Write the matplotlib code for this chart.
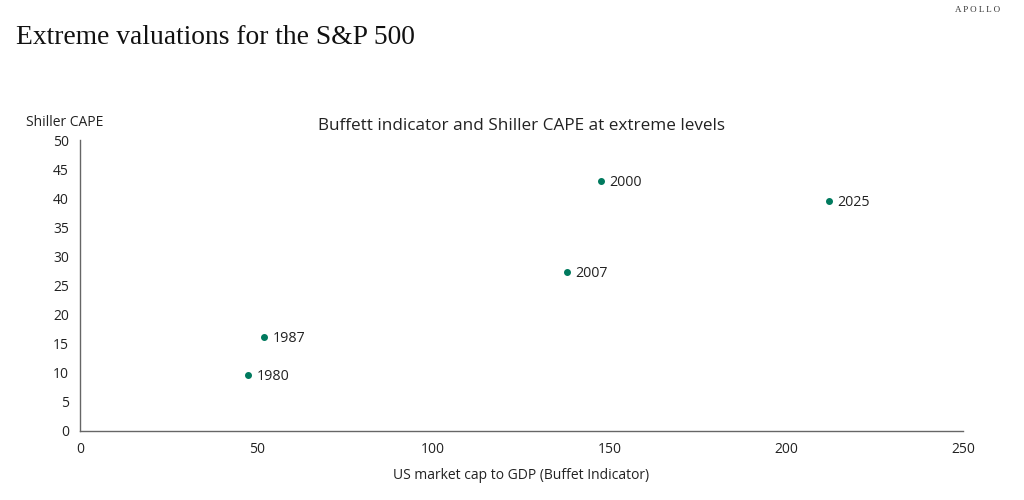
import matplotlib.pyplot as plt

years = ['1980', '1987', '2007', '2000', '2025']
buffett = [47.6, 52.1, 137.9, 147.5, 212.1]
cape = [9.6, 16.2, 27.3, 43.0, 39.5]

green = '#007a5e'
plt.rcParams['font.family'] = ['Open Sans', 'DejaVu Sans']

fig = plt.figure(figsize=(10.24, 5.0), dpi=100)
ax = fig.add_axes([80 / 1024, 1 - 431 / 500, 883 / 1024, 291 / 500])

ax.scatter(buffett, cape, s=16, color=green, zorder=3)
for x, y, lab in zip(buffett, cape, years):
    ax.annotate(lab, (x, y), xytext=(6, -1), textcoords='offset points',
                fontsize=10.3, color='#222222', va='center')

ax.set_xlim(0, 250)
ax.set_ylim(0, 50)
ax.set_xticks(range(0, 251, 50))
ax.set_yticks(range(0, 51, 5))
ax.tick_params(length=0, labelsize=10, colors='#222222', pad=8)
for s in ['top', 'right']:
    ax.spines[s].set_visible(False)
for s in ['left', 'bottom']:
    ax.spines[s].set_color('#666666')
    ax.spines[s].set_linewidth(1)

ax.set_xlabel('US market cap to GDP (Buffet Indicator)', fontsize=10, color='#222222', labelpad=8)
fig.text(26 / 1024, 1 - 122 / 500, 'Shiller CAPE', fontsize=10, color='#222222', va='center')
fig.text(521 / 1024, 1 - 126 / 500, 'Buffett indicator and Shiller CAPE at extreme levels',
         fontsize=12.3, color='#222222', ha='center', va='center')

fig.text(16 / 1024, 1 - 37 / 500, 'Extreme valuations for the S&P 500',
         fontsize=19.8, family='Liberation Serif', color='#111111', va='center')
fig.text(1000 / 1024, 1 - 10 / 500, 'A P O L L O', fontsize=6.5, family='Liberation Serif',
         color='#333333', ha='right', va='center')

fig.savefig('out.png', dpi=100)
